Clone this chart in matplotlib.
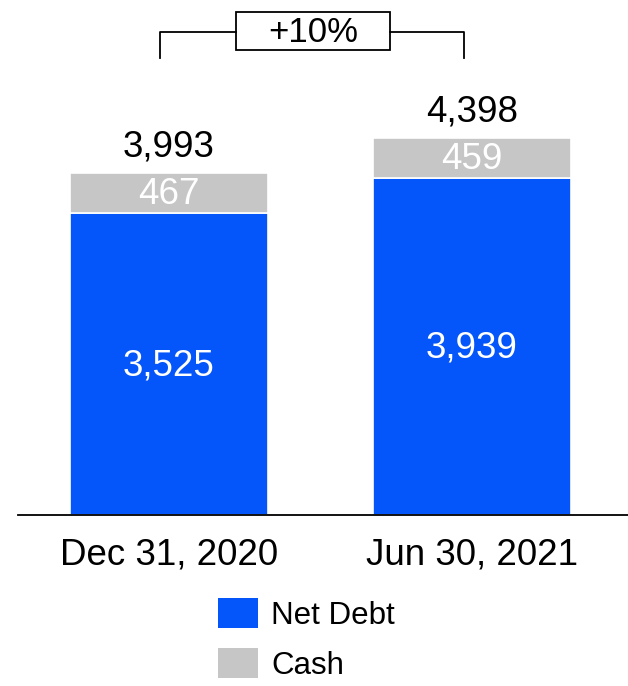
import matplotlib
matplotlib.use("Agg")
import matplotlib.pyplot as plt
from matplotlib.patches import Rectangle
from matplotlib.lines import Line2D

plt.rcParams['font.family'] = ['Liberation Sans', 'DejaVu Sans']

categories = ["Dec 31, 2020", "Jun 30, 2021"]
net_debt = [3525, 3939]
cash = [467, 459]
totals = [3993, 4398]
growth_label = "+10%"
series_names = ["Net Debt", "Cash"]

BLUE = "#0556FA"
GREY = "#C6C6C6"

W, H = 628, 686
fig = plt.figure(figsize=(W / 100, H / 100), dpi=100)

# axes spans from the baseline (y=515 px) to the top edge
ax_left, ax_right = 18, 628
base_px = 515
ax = fig.add_axes([ax_left / W, (H - base_px) / H, (ax_right - ax_left) / W, base_px / H])

px_per_unit_x = 303
center0 = 169
ax.set_xlim((ax_left - center0) / px_per_unit_x, (ax_right - center0) / px_per_unit_x)
px_per_val = 302 / 3525
ax.set_ylim(0, base_px / px_per_val)

x = list(range(len(categories)))
bw = 198 / px_per_unit_x
ax.bar(x, net_debt, width=bw, color=BLUE, edgecolor="white", linewidth=1.2)
ax.bar(x, cash, width=bw, bottom=net_debt, color=GREY, edgecolor="white", linewidth=1.2)

fs = 26.5
nudge = 2 / px_per_val  # optical centering for digits
for i in x:
    ax.text(i, net_debt[i] / 2 - nudge, f"{net_debt[i]:,}", ha="center", va="center",
            color="white", fontsize=fs)
    ax.text(i, net_debt[i] + cash[i] / 2 - nudge, f"{cash[i]:,}", ha="center", va="center",
            color="white", fontsize=fs)
    ax.text(i, net_debt[i] + cash[i] + 28 / px_per_val - nudge, f"{totals[i]:,}",
            ha="center", va="center", color="black", fontsize=fs, clip_on=False)

# growth bracket
def py(p):
    return (base_px - p) / px_per_val

bl, br = -0.03, 0.974
box_l, box_r = 0.221, 0.7294
lw = 1.3
ax.add_line(Line2D([bl, bl, box_l], [py(58), py(32), py(32)], color="black", lw=lw, clip_on=False))
ax.add_line(Line2D([box_r, br, br], [py(32), py(32), py(58)], color="black", lw=lw, clip_on=False))
ax.add_patch(Rectangle((box_l, py(50)), box_r - box_l, py(12) - py(50), facecolor="white",
                       edgecolor="black", lw=lw, clip_on=False))
ax.text((box_l + box_r) / 2, py(33), growth_label, ha="center", va="center",
        fontsize=25, color="black", clip_on=False)

# axis styling
for s in ["top", "right", "left"]:
    ax.spines[s].set_visible(False)
ax.spines["bottom"].set_linewidth(1.3)
ax.set_yticks([])
ax.set_xticks(x)
ax.set_xticklabels(categories, fontsize=fs)
ax.tick_params(axis="x", length=0, pad=16)

# legend
for name, col, yc in [(series_names[0], BLUE, 613), (series_names[1], GREY, 663)]:
    fig.patches.append(Rectangle((218 / W, (H - yc - 15) / H), 40 / W, 30 / H,
                                 transform=fig.transFigure, facecolor=col, edgecolor="none"))
    fig.text(271 / W, (H - yc - 3) / H, name, ha="left", va="center", fontsize=22.5,
             color="black")

fig.savefig("out.png", dpi=100)
